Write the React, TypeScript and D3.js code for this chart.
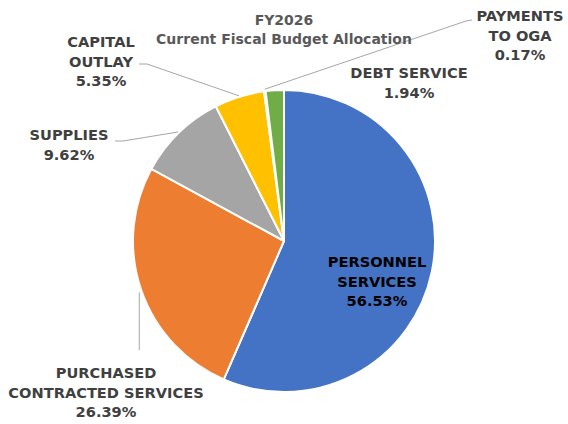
import React from "react";
import * as d3 from "d3";

const categories = [
  "PERSONNEL SERVICES",
  "PURCHASED CONTRACTED SERVICES",
  "SUPPLIES",
  "CAPITAL OUTLAY",
  "PAYMENTS TO OGA",
  "DEBT SERVICE",
];
const values = [56.53, 26.39, 9.62, 5.35, 0.17, 1.94];
const labelLines = [
  ["PERSONNEL", "SERVICES"],
  ["PURCHASED", "CONTRACTED SERVICES"],
  ["SUPPLIES"],
  ["CAPITAL", "OUTLAY"],
  ["PAYMENTS", "TO OGA"],
  ["DEBT SERVICE"],
];
const colors = ["#4472C4", "#ED7D31", "#A5A5A5", "#FFC000", "#264478", "#70AD47"];
const titleLines = ["FY2026", "Current Fiscal Budget Allocation"];

const W = 568;
const H = 424;
const cx = 284;
const cy = 241;
const R = 151;
const lineH = 19.5;
const font = "'DejaVu Sans', Verdana, sans-serif";

// label layout: center x, first baseline y, text colour, leader type
type Layout = { x: number; y: number; fill: string; leader?: "down" | "left" | "right"; lx?: number; ly?: number };
const layout: Layout[] = [
  { x: 377, y: 267, fill: "#000000" },
  { x: 106, y: 378, fill: "#404040", leader: "down", ly: 350 },
  { x: 69, y: 140, fill: "#404040", leader: "left", lx: 115, ly: 141 },
  { x: 101, y: 47, fill: "#404040", leader: "left", lx: 139, ly: 64 },
  { x: 520, y: 21, fill: "#404040", leader: "right", lx: 472, ly: 20 },
  { x: 409, y: 78, fill: "#404040" },
];

export default function App() {
  const pie = d3.pie<number>().sort(null).value((d) => d)(values);
  const arc = d3.arc<d3.PieArcDatum<number>>().innerRadius(0).outerRadius(R);

  const edge = (d: d3.PieArcDatum<number>, r: number) => {
    const a = (d.startAngle + d.endAngle) / 2;
    return [cx + r * Math.sin(a), cy - r * Math.cos(a)];
  };

  const leaders = pie.map((d, i) => {
    const L = layout[i];
    if (!L.leader) return null;
    const [ex, ey] = edge(d, R + 1);
    let pts: number[][] = [];
    if (L.leader === "down") pts = [[ex - 1, ey + 2], [ex - 1, L.ly!]];
    else if (L.leader === "left") pts = [[ex, ey], [L.lx! + 8, L.ly!], [L.lx!, L.ly!]];
    else pts = [[ex, ey - 1], [L.lx! - 6, L.ly! + 1], [L.lx!, L.ly!]];
    return (
      <path
        key={"l" + i}
        d={d3.line()(pts as [number, number][]) || ""}
        fill="none"
        stroke="#A6A6A6"
        strokeWidth={1}
      />
    );
  });

  return (
    <div style={{ position: "absolute", left: 0, top: 0 }}>
      <svg width={W} height={H} style={{ display: "block", background: "#fff" }}>
        <g transform={`translate(${cx},${cy})`}>
          {pie.map((d, i) => (
            <path key={i} d={arc(d) || ""} fill={colors[i]} stroke="#fff" strokeWidth={2} strokeLinejoin="round" />
          ))}
        </g>
        {leaders}
        <g fontFamily={font} fontWeight="bold" textAnchor="middle" fill="#595959" fontSize={14}>
          {titleLines.map((t, i) => (
            <text key={i} x={284} y={25 + i * 19}>
              {t}
            </text>
          ))}
        </g>
        <g fontFamily={font} fontWeight="bold" textAnchor="middle" fontSize={14.6}>
          {categories.map((c, i) => {
            const L = layout[i];
            const lines = [...labelLines[i], values[i].toFixed(2) + "%"];
            return (
              <text key={c} fill={L.fill}>
                {lines.map((t, j) => (
                  <tspan key={j} x={L.x} y={L.y + j * lineH}>
                    {t}
                  </tspan>
                ))}
              </text>
            );
          })}
        </g>
      </svg>
    </div>
  );
}
